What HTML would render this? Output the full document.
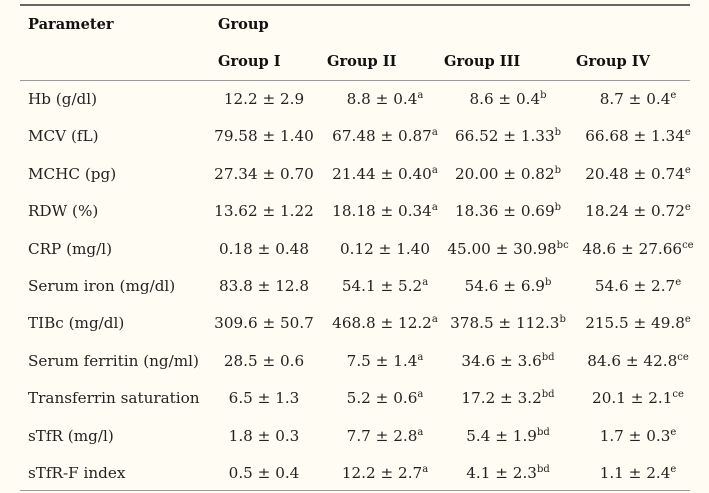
<!DOCTYPE html>
<html><head><meta charset="utf-8"><style>
html,body{margin:0;padding:0;}
body{width:709px;height:493px;background:#fffdf3;position:relative;overflow:hidden;font-family:"DejaVu Serif","Liberation Serif",serif;font-size:15.2px;color:#222;}
.rule{position:absolute;left:20px;width:670px;}
.t{position:absolute;white-space:nowrap;line-height:18px;}
.h{font-weight:bold;color:#111;font-size:14.6px;}
.c{transform:translateX(-50%);}
sup{font-size:10px;vertical-align:6px;line-height:0;}
</style></head><body>
<div class="rule" style="top:4px;height:2px;background:#666"></div>
<div class="rule" style="top:80px;height:1px;background:#999"></div>
<div class="rule" style="top:490px;height:1px;background:#999"></div>
<div class="t h" style="left:28px;top:16px">Parameter</div>
<div class="t h" style="left:218px;top:16px">Group</div>
<div class="t h" style="left:218px;top:53px">Group I</div>
<div class="t h" style="left:327px;top:53px">Group II</div>
<div class="t h" style="left:444px;top:53px">Group III</div>
<div class="t h" style="left:576px;top:53px">Group IV</div>
<div id="rows"></div>
<script>
const params=["Hb (g/dl)","MCV (fL)","MCHC (pg)","RDW (%)","CRP (mg/l)","Serum iron (mg/dl)","TIBc (mg/dl)","Serum ferritin (ng/ml)","Transferrin saturation","sTfR (mg/l)","sTfR-F index"];
const g1=["12.2 ± 2.9","79.58 ± 1.40","27.34 ± 0.70","13.62 ± 1.22","0.18 ± 0.48","83.8 ± 12.8","309.6 ± 50.7","28.5 ± 0.6","6.5 ± 1.3","1.8 ± 0.3","0.5 ± 0.4"];
const g2=["8.8 ± 0.4|a","67.48 ± 0.87|a","21.44 ± 0.40|a","18.18 ± 0.34|a","0.12 ± 1.40|","54.1 ± 5.2|a","468.8 ± 12.2|a","7.5 ± 1.4|a","5.2 ± 0.6|a","7.7 ± 2.8|a","12.2 ± 2.7|a"];
const g3=["8.6 ± 0.4|b","66.52 ± 1.33|b","20.00 ± 0.82|b","18.36 ± 0.69|b","45.00 ± 30.98|bc","54.6 ± 6.9|b","378.5 ± 112.3|b","34.6 ± 3.6|bd","17.2 ± 3.2|bd","5.4 ± 1.9|bd","4.1 ± 2.3|bd"];
const g4=["8.7 ± 0.4|e","66.68 ± 1.34|e","20.48 ± 0.74|e","18.24 ± 0.72|e","48.6 ± 27.66|ce","54.6 ± 2.7|e","215.5 ± 49.8|e","84.6 ± 42.8|ce","20.1 ± 2.1|ce","1.7 ± 0.3|e","1.1 ± 2.4|e"];
const root=document.getElementById('rows');
function cell(txt,left,top,center,name){
  const d=document.createElement('div');
  d.className='t'+(center?' c':'');
  d.style.left=left+'px';d.style.top=top+'px';
  const p=txt.split('|');
  d.textContent=p[0];
  if(p[1]){const s=document.createElement('sup');s.textContent=p[1];d.appendChild(s);}
  
  
  root.appendChild(d);
}
params.forEach((p,i)=>{
  const y=90+i*37.4;
  cell(p,28,y,false,'row-label');
  cell(g1[i],264,y,true,'group-i-value');
  cell(g2[i],385,y,true,'group-ii-value');
  cell(g3[i],508,y,true,'group-iii-value');
  cell(g4[i],638,y,true,'group-iv-value');
});
</script>
</body></html>
